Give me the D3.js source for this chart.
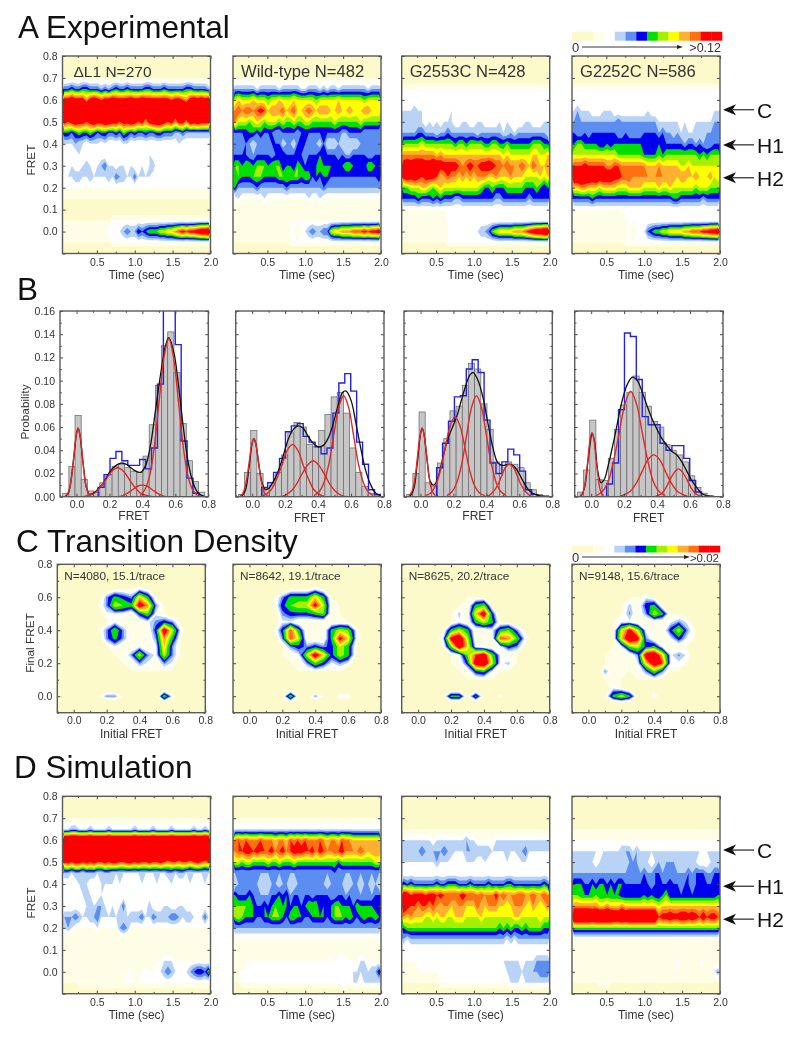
<!DOCTYPE html>
<html><head><meta charset="utf-8">
<script src="https://cdn.jsdelivr.net/npm/d3@7"></script>
<style>html,body{margin:0;background:#fff}svg{display:block;filter:blur(0.4px)}text{font-family:"Liberation Sans",Arial,sans-serif}</style>
</head><body><svg id="c" width="800" height="1037"></svg>
<script>
// Colour bands, in density levels (a row shorter than the grid repeats its last value)
const levels=[2,3,4,5,6,7,8,9,10,11,12];
const tdmLevels=[3,3.5,4.2,4.8,5.4,6.5,8,9,10,11,12];
const levelColors=["#FEFDE6","#FFFFFF","#B9D3F7","#5B8EF0","#0000EE","#00E000","#A4F000","#FFFF00","#FFB030","#FF7010","#FF0000"];
const paleColor="#FCFACA";
const legendColors=[paleColor,paleColor,"#FEFDE6","#FFFFFF","#B9D3F7","#5B8EF0","#0000EE","#00E000","#A4F000","#FFFF00","#FFB030","#FF7010","#FF0000","#FF0000"];
// Density vs time: rows FRET 0.8 ... -0.1 in 0.05 steps, 40 time columns
const expDL1=[[0],[1],[2],
[6,6,7,6,6,7,7,6,6,6,5,6,5,6,7,6,6,7,6,6,6,6,7,7,6,6,6,7,6,6,6,6,6,7,7,6,6,6,6,5],
[13,13,14,13,13,13,11,13,14,13,12,13,13,14,13,13,13,13,14,13,13,14,13,13,13,13,13,13,13,12,13,13,12,11,13,14,13,14,13,14],
[16,16,16,16,16,16,16,16,16,16,16,16,16,16,16,16,16,16,16,13,15,16,14,15,16,16,16,16,16,12,14,16,16,16,13,15,12,16,13,16],
[13,12,13,14,13,13,12,13,14,13,13,14,14,13,13,12,13,13,14,13,12,13,11,13,14,14,14,13,12,13,11,13,13,11,14,13,14,13,13,13],
[7,7,6,7,8,7,7,8,7,6,7,7,6,6,7,6,8,7,6,7,6,6,7,6,6,7,7,6,6,6,5,5,6,5,5,5,5,5,5,5],
[4,4,4,5,4,4,3,4,4,4,3,4,3,3,3,3,4,4,3,3,3,3,3,3,3,3,3,3,3,3,3,4,3],
[3,3,3,3,4,3,3,3,3,3,3,3,3,3,3,3,3,3,3,3,3,3,3,4,3],
[3,3,4,3,3,4,5,4,3,4,5,6,4,4,3,4,4,3,4,3,3,4,3,4,5,3,3,3,3,4,3],
[4,4,4,5,5,4,4,5,4,4,4,4,5,4,6,5,5,4,4,6,4,4,4,4,3,3,3,3,3,4,3],
[3],[2],[1],[2,2,2,2,2,2,2,2,2,2,2,2,2,3],
[2,2,2,2,2,2,2,2,3,3,3,3,4,4,4,4,5,6,5,5,7,6,7,8,8,8,9,9,10,10,11,12,13,12,13,13,14,15,15,16],
[2,2,2,2,2,2,2,2,2,2,2,2,2,3],[0]];
const expWT=[[0],[1],[2],
[5,5,5,5,5,5,4,5,5,5,5,5,4,5,5,5,5,5,4,4,5,5,5,4,5,4,5,5,4,5,5,5,5,5,5,5,4,5,5,5],
[9,10,9,9,9,10,9,9,9,8,9,9,10,9,9,9,10,9,9,9,9,9,8,9,9,9,9,9,10,9,9,9,9,9,9,8,9,9,9,9],
[11,12,11,12,12,11,12,13,12,10,11,11,11,12,10,11,12,10,10,11,12,11,10,11,11,11,10,10,11,10,10,11,10,10,10,11,11,10,10,10],
[11,9,9,9,8,9,10,9,8,9,9,9,8,9,8,8,9,8,8,9,9,8,8,8,8,8,8,9,8,8,8,8,8,8,9,8,8,8,8,8],
[6,6,6,6,7,7,6,7,6,6,6,5,5,6,6,6,6,5,6,6,6,6,6,6,6,6,6,6,6,5,5,6,6,6,6,5,5,5,5,5],
[5,5,5,6,5,4,5,5,5,5,6,6,6,4,5,5,4,6,6,6,5,5,5,4,6,4,4,4,5,4,4,4,4,4,5,5,5,5,5,5],
[6,6,6,6,5,5,6,6,6,6,5,6,6,7,6,6,6,6,6,5,6,6,6,7,6,6,6,6,5,6,5,5,6,6,6,6,5,5,6,6],
[8,8,7,8,8,7,8,8,8,7,8,8,8,6,7,7,6,8,7,6,6,6,7,8,7,7,7,6,7,7,8,8,7,6,7,6,8,8,7,6],
[7,8,7,7,7,8,8,8,7,7,7,7,8,8,8,8,8,8,7,8,8,6,7,6,7,7,6,6,6,6,6,6,6,6,6,6,6,6,6,7],
[7,5,5,5,5,5,6,5,5,5,5,5,5,5,6,5,5,5,5,5,5,5,5,5,6,5],
[3,4,3,3,3,3,3,3,4,3,3,3,3,3,3,3,3,3,3,3,4,3,3,4,3],
[2],[2,2,2,2,2,2,2,2,2,2,2,2,2,2,2,3],
[2,2,2,2,2,2,2,2,2,2,2,2,2,2,2,3,3,2,3,4,5,6,5,5,6,6,9,10,10,11,11,11,12,12,12,13,12,13,13,14],
[2,2,2,2,2,2,2,2,2,2,2,2,2,2,2,3],[0]];
const expG2553C=[[0],[0],[1],[3],[3],
[4,4,4,5,4,4,3,3,3,3,3,3,3,4,3,4,3,3,4,3,3,3,4,3,3,4,3],
[4,4,4,4,4,4,3,4,3,4,3,4,4,4,3,3,4,4,3,3,4,4,3,3,3,3,4,3,4,3,3,3,3,4,4,3,3,3,4,4],
[5,5,5,5,6,6,5,5,5,4,5,5,6,5,5,5,5,5,5,5,4,5,5,5,5,5,5,4,4,5,4,5,5,5,5,5,5,5,5,4],
[8,8,8,8,8,9,8,8,8,8,8,8,8,8,7,8,8,7,8,8,8,8,7,7,8,8,7,7,8,7,7,7,7,7,7,8,8,8,7,7],
[11,11,11,11,11,11,11,11,11,10,11,10,10,10,10,10,10,10,10,10,10,10,10,10,10,10,10,9,10,9,9,9,9,9,9,10,10,9,9,10],
[13,14,13,14,14,14,13,13,14,14,13,13,13,13,13,12,11,12,13,12,12,13,13,14,13,12,12,11,12,11,11,11,12,11,10,12,11,10,10,11],
[13,14,13,14,13,12,13,13,13,12,10,11,12,11,11,10,11,10,11,10,11,11,11,10,10,11,10,10,10,11,10,10,10,9,9,9,9,10,9,10],
[8,8,9,9,9,10,10,9,8,9,10,9,9,9,9,9,9,9,9,9,9,8,7,7,8,7,7,7,8,8,8,8,8,7,7,7,8,7,6,7],
[6,6,6,6,7,6,6,6,7,6,7,6,6,6,5,5,6,6,6,6,6,6,6,6,6,5,5,6,6,6,6,6,6,6,5,6],
[3],[2,2,2,2,2,2,2,2,2,2,2,2,3],
[2,2,2,2,2,2,2,2,2,2,2,2,3,3,3,4,3,3,3,4,4,5,5,6,8,9,10,10,10,10,11,11,11,12,13,14,15,15,16,16],
[2,2,2,2,2,2,2,2,2,2,2,2,3],[0]];
const expG2252C=[[0],[0],[1],[3],[3],
[4,5,4,4,4,3,3,3,4,4,4,3,3,3,3,3,3,3,3,3,4,3,3,3,3,3,3,3,3,3,3,3,3,3,3,3,3,3,4,4],
[5,5,5,5,5,5,5,5,5,5,5,5,6,5,5,5,5,5,5,5,5,5,5,4,4,4,4,4,4,3,4,3,3,4,4,4,4,4,5,5],
[6,5,5,6,5,6,6,6,6,6,6,6,5,5,6,5,5,5,5,6,6,6,6,5,6,5,5,4,5,4,4,4,4,4,4,4,5,5,5,5],
[7,8,8,7,7,7,7,6,6,7,6,7,7,7,7,7,7,7,7,6,6,6,6,7,6,6,6,6,6,6,5,6,6,5,6,5,5,5,6,6],
[9,9,9,9,9,9,9,9,9,9,9,9,8,8,8,8,8,8,8,7,7,7,7,8,7,8,8,8,8,8,8,8,8,8,7,8,7,8,8,8],
[12,12,12,13,12,12,12,12,12,11,11,12,12,11,11,11,11,11,11,11,10,10,10,11,10,10,10,10,10,9,9,10,9,9,9,9,9,9,9,9],
[15,15,15,14,15,14,15,14,14,14,14,13,13,12,12,12,11,11,11,11,11,11,11,11,11,11,11,11,10,11,11,10,10,11,10,9,10,11,9,10],
[10,10,11,11,10,10,10,9,10,10,10,10,9,9,9,10,10,10,10,9,9,9,9,10,9,9,10,9,9,9,9,9,9,8,9,9,9,8,8,8],
[6,6,6,6,6,7,6,6,6,6,6,6,6,6,6,6,6,6,6,6,6,6,6,6,6,6,6,7,7,6,6,6,6,6,6,5,6],
[3],[2,2,2,2,2,2,2,2,2,2,2,2,2,2,3],
[2,2,2,2,2,2,2,2,2,2,2,2,2,2,2,3,2,3,3,4,6,7,8,8,9,9,10,10,10,10,11,11,12,12,12,13,13,14,14,15],
[2,2,2,2,2,2,2,2,2,2,2,2,2,2,3],[0]];
const simDL1=[[0],[1],[2],
[4,4,5,5,4,4,4,5,4,4,4,4,5,4,4,4,4,4,4,5,4,4,4,4,5,4,4,4,4,5,4,4,4,4,4,5,4,4,5,4],
[17],[18],
[12,13,12,13,13,12,13,12,13,12,12,13,12,13,13,12,12,13,13,12,13,12,12,13,12,12,13,12,11,12,12,11,12,12,11,12,13,12,11,12],
[5,5,4,5,5,4,5,5,5,4,4,5,5,4,4,4,4,4,4,4,4,4,4,4,4,4,4,4,5,5,4,5,5,4,4,4,4,4,4,4],
[3,3,3,3,4,4,4,3,3,3,4,4,4,4,3,4,3,3,3,3,3,4,3,3,3,4,3,3,3,4,3,3,3,3,4,3,3,3,4,3],
[3,3,3,3,3,4,5,4,3,3,4,3,3,3,4,3,3,3,3,3,4,3],
[3,3,3,3,3,3,4,4,4,5,5,4,3,4,3,4,6,3,3,3,3,3,3,5,3,3,3,4,4,3,3,4,4,3],
[5,5,5,6,5,4,4,5,5,6,4,4,4,4,4,4,4,4,5,5,5,6,4,4,6,5,5,5,5,6,6,5,4,5,5,4,4,4,6,4],
[4,5,4,3,3,3,3,3,3,4,3,3,3,3,3,5,6,5,3],
[2],[2],
[2,2,2,2,2,2,2,2,2,2,2,2,2,2,2,2,2,2,2,2,2,2,2,2,2,3,3,4,4,4,3],
[2,2,2,2,2,2,2,2,2,2,2,2,2,2,2,2,2,3,4,2,2,3,4,3,3,3,4,5,6,5,4,3,4,4,5,6,7,7,6,8],
[2,2,2,2,3],[1]];
const simWT=[[0],[1],[2],[4],
[11,12,11,12,11,11,11,12,11,11,11,10,11,11,10,12,11,12,11,12,11,11,11,12,11,10,11,11,10,12,11,11,10,10,10,10,10,10,10,10],
[11,12,12,13,13,12,13,12,12,12,13,11,12,13,11,12,13,13,13,12,12,13,11,13,12,11,11,12,12,13,11,11,11,11,12,11,10,11,11,11],
[9,9,8,9,9,8,8,8,8,9,8,8,9,8,8,8,9,8,8,8,8,8,8,8,8,8,8,8,7,8,8,8,8,8,8,8,8,8,9,9],
[5,5,5,5,5,5,5,5,5,5,5,5,5,5,5,5,5,5,5,5,5,5,5,5,5,5,5,6,5],
[4,5,5,5,5,5,5,4,4,4,5,5,4,5,5,4,4,5,5,5,5,5,5,5,5,4,5,5,5,5,4,4,5,5,4,5,5,4,5,4],
[7,6,6,6,7,6,5,5,5,5,6,6,7,6,7,5,6,6,5,6,6,5,6,6,6,6,5,5,6,6,5,6,5,5,5,5,5,5,6,6],
[8,8,8,8,8,7,6,6,7,6,7,8,7,7,7,6,7,7,6,7,8,8,8,6,7,6,7,8,8,7,7,7,6,8,7,7,7,7,6,6],
[8,9,8,7,7,7,6,6,7,7,8,8,8,7,6,8,8,7,7,6,6,7,7,7,7,6,7,8,8,8,7,8,7,6,7,8,7,7,8,7],
[5],[3],[2],
[2,2,2,3,3,3,3,3,3,3,3,3,3,3,3,3,3,3,3,3,3,3,3,3,3,3,4,3,4,4,4,3,3,3,4,4,3,3,3,3],
[3,3,3,3,3,3,3,3,3,3,3,3,3,3,3,3,3,3,3,3,3,3,3,3,3,3,3,3,3,3,3,3,4,4,4,4,4,5,5,7],
[2,2,3,3,3,3,3,3,3,3,3,3,3,3,3,3,3,3,3,3,3,3,3,3,3,3,3,3,3,4,4,3,4,4,3,4,4,4,4,4],[1]];
const simG2553C=[[0],[0],[1],[2],
[4,4,4,4,4,4,4,4,3,4,4,4,4,4,4,4,4,5,4,4,3,3,3,3,3,4,4,4,4,4,4,4,4,4,4,4],
[5,4,5,5,5,6,5,5,5,5,5,6,5,5,4,4,4,5,5,5,5,5,5,5,4,4,4,4,5,4,4,5,5,6,4],
[4,4,4,4,4,4,4,4,4,5,4,4,4,3,3,3,3,4,4,4,3,3,4,3,3,3,3,3,4,3,3,3,4,4,3],
[3],
[7,6,7,6,6,6,6,6,6,7,6,6,7,7,7,6,6,6,7,6,6,6,6,7,6,6,6,6,7,7,6,6,6,6,6,6,6,6,7,6],
[14,14,12,13,13,13,12,13,13,12,13,12,12,12,12,12,13,12,12,12,11,12,11,11,11,13,11,12,11,11,11,12,12,11,11,12,11,11,12,11],
[14,13,12,12,11,12,12,11,12,11,10,11,11,10,10,11,11,10,10,10,12,10,10,11,11,11,10,10,9,10,11,11,11,10,9,11,10,9,10,11],
[11,10,11,10,10,10,9,9,10,9,10,10,9,9,10,10,10,9,9,9,9,10,9,9,9,9,9,9,9,9,10,10,9,9,9,9,9,10,9,9],
[7,8,8,8,8,8,8,8,8,8,8,8,8,8,8,8,8,8,8,8,8,8,8,8,8,8,7,8,7,8,7,7,8,7,8,8,8,8,7,7],
[5,4,5,5,5,5,5,5,5,5,5,5,5,5,5,5,5,5,5,5,5,5,5,5,5,5,5,5,4,5,4,5],
[3],
[3,3,3,3,3,3,3,3,3,3,3,3,3,3,3,3,3,3,3,3,3,3,3,3,3,3,3,4,4,4,4,4,3,4,4,4,5,5,5,5],
[2,2,2,2,3,3,3,3,3,3,3,3,3,3,3,3,3,4,4,3,4,4,4,3,3,3,3,3,4,4,4,4,4,4,5,5,5,6,6,6],
[2,2,2,2,2,2,2,2,2,2,3,3,3,3,3,3,3,3,3,3,3,3,3,3,3,3,3,3,3,4,4,4,3,4,4,4,4,4,4,4],[1]];
const simG2252C=[[0],[0],[1],[2],[3],
[4,4,4,4,4,4,4,3,4,4,4,4,4,5,5,5,4,5,4],
[4,4,4,4,4,4,3,4,4,4,4,4,4,4,4,5,5,5,4,4,4,3,4,5,4,5,5,5,4,4,4,4,4,4,3,3,3,4,4,4],
[5,5,5,5,5,5,5,5,5,5,5,5,5,5,5,5,5,5,5,6,5,5,6,6,5,5,5,5,5,5,5,6,5,6,6,6,5,5,6,6],
[7,7,7,6,6,7,6,7,7,6,7,6,7,7,6,6,6,6,6,6,6,5,6,6,6,6,7,6,6,5,6,6,5,6],
[8,8,7,7,7,7,8,7,7,7,7,7,7,6,6,6,6,6,6,7,6,7,6,6,7,8,6,6,6,6,6,6,6,6,6,6,6,6,6,7],
[11,11,11,11,11,11,11,10,10,11,10,10,10,11,10,10,10,10,10,10,10,10,10,9,10],
[16,16,16,16,16,15,16,16,16,16,16,15,15,16,15,16,16,16,16,16,16,16,16,12,13,13,14,13,13,14,14,13,14,13,12,14,12,13,13,12],
[8],[3],[2],
[2,2,2,2,2,2,2,3,3,3,3,3,3,3,3,3,3,3,3,3,3,3,3,3,3,3,3,3,3,3,3,3,3,3,3,3,2],
[2,2,2,2,2,2,2,2,2,2,2,2,2,2,2,2,2,2,2,2,2,2,2,2,2,2,2,2,3,2,2,2,2,2,2,3,2,2,4,5],
[2,2,2,2,2,2,2,3,3,3,2],[1]];
// Transition density: [final FRET, values for initial FRET 0.1, 0.15 ... 0.7]
const tdmDL1=[[.65,1,1,2,3,3,3,4,3,2,1,1,1,1],[.6,1,2,5,7,6,5,10,7,3,2,1,1,1],[.55,1,3,5,9,8,7,14,11,5,3,2,1,1],[.5,1,2,4,4,4,3,6,8,4,3,2,1,1],[.45,1,2,3,4,3,3,3,4,5,6,5,3,2],[.4,2,3,5,8,5,3,3,3,6,14,9,4,2],[.35,1,2,5,7,5,3,3,3,5,11,7,3,2],[.3,1,2,3,4,3,3,4,3,4,10,5,3,1],[.25,1,1,2,3,3,5,9,5,4,9,5,3,1],[.2,1,1,2,2,3,3,5,4,3,5,4,2,1],[.15,1,1,1,2,2,3,3,3,3,3,3,2,1],[0,1,3,5,5,3,2,3,3,2,8,4,2,1]];
const tdmWT=[[.65,1,1,2,3,3,3,4,3,2,1,1,1,1],[.6,1,3,5,7,7,7,10,7,3,2,1,1,1],[.55,1,3,6,8,9,9,13,9,3,3,2,1,1],[.5,1,2,5,6,6,6,7,8,3,3,2,1,1],[.45,1,2,4,4,3,3,3,3,3,3,3,2,1],[.4,1,3,6,12,7,3,3,3,7,9,8,4,2],[.35,1,2,5,12,9,3,3,3,7,13,10,4,2],[.3,1,2,3,5,6,5,6,5,6,9,7,3,2],[.25,1,1,3,3,4,9,14,10,6,9,7,3,1],[.2,1,1,2,3,3,5,8,6,4,5,4,2,1],[.15,1,1,2,2,3,3,3,3,3,3,2,2,1],[0,1,2,3,8,3,2,5,3,2,4,4,2,1]];
const tdmG2553C=[[.6,1,1,1,2,3,3,3,2,1,1,1,1,1],[.55,1,1,2,3,3,7,8,3,2,1,1,1,1],[.5,1,2,3,4.5,3,10,14,6,2,2,1,1,1],[.45,1,2,3,4,3,7,9,7,3,3,2,1,1],[.4,1,3,7,9,7,3,3,4,7,8,5,3,2],[.35,2,4,13,15,9,3,3,3,12,11,8,4,2],[.3,1,3,8,14,10,4,3,3,4,6,5,3,2],[.25,1,2,3,4,8,12,14,8,4,3,3,2,1],[.2,1,2,3,3,6,14,15,9,4,4.5,3,2,1],[.15,1,1,2,3,3,6,7,4,3,3,2,1,1],[.1,1,1,2,2,3,3,3,3,2,2,1,1,1],[0,1,3,7,7,3,7,3,2,3.5,2,1,1,1]];
const tdmG2252C=[[.6,1,1,2,3,3,4,3,2,1,1,1,1,1],[.55,1,2,3,4.5,3,6,7,3,2,2,1,1,1],[.5,1,2,3,5,3,5,9,7,3,3,2,1,1],[.45,1,3,4,4,3,3,3,3,4,5,4,2,1],[.4,2,3,9,13,9,4,3,3,6,9,5,3,2],[.35,1,3,10,15,13,5,3,3,4,6,4,3,2],[.3,1,3,4,8,9,6,7,4,3,3,3,2,1],[.25,3,3,3,3,5,14,15,10,4,5,4,2,1],[.2,3,3,3,3,4,10,14,12,4,4,3,2,1],[.15,5,3,3,3,3,5,8,5,3,3,2,1,1],[.1,3,3,3,2,3,3,3,3,2,2,1,1,1],[.05,2,4,3,2,2,2,2,2,1,1,1,1,1],[0,3,7,9,7,3,2,4,2,3,2,1,1,1]];
// Histograms, probability x 1000
const barCenters=[-.065,-.0275,.01,.0475,.085,.1225,.16,.1975,.235,.2725,.31,.3475,.385,.4225,.46,.4975,.535,.5725,.61,.6475,.685,.7225,.76];
const barWidth=.0375,blueWidth=.036;
const grayDL1=[3,26,70,15,5,4,12,19,26,28,25,22,21,35,62,96,130,142,107,63,31,13,4];
const grayWT=[2,21,57,20,7,10,21,36,55,64,60,45,43,57,71,86,90,72,42,21,9,3,1];
const grayG2553C=[2,20,73,12,9,29,50,74,78,96,115,110,80,58,30,27,30,28,25,12,6,2,1];
const grayG2252C=[4,23,66,15,14,33,58,79,90,104,90,78,65,60,45,40,36,30,18,8,3,1,0];
const blueStarts=[.1314,.058,.098,.094];
const blueDL1=[8,19,33,39,31,27,27,32,24,42,97,165,165,131,48,16,3];
const blueWT=[8,12,21,33,56,61,63,52,47,43,37,42,72,98,106,91,47,28,6,2];
const blueG2553C=[25,46,65,86,87,110,118,107,66,29,20,30,41,36,22,6,2];
const blueG2252C=[11,29,75,141,138,101,69,62,62,46,40,44,44,33,14,4];
// Fit components: start, step, heights (x 1000)
const fitsDL1=[[-.065,.0125,[1,3,8,19,36,52,59,52,36,19,8,3,1]],[.04,.035,[0,1,3,8,15,22,25,22,15,8,3,1,0]],[.22,.03,[0,0,1,3,6,9,10,9,6,3,1,0,0]],[.386,.029,[1,6,18,44,83,120,136,120,83,44,18,6,1]]];
const fitsWT=[[-.074,.014,[1,2,7,16,30,44,50,44,30,16,7,2,1]],[.05,.0325,[0,2,6,15,27,40,45,40,27,15,6,2,0]],[.16,.035,[0,1,4,10,19,27,31,27,19,10,4,1,0]],[.375,.03,[1,4,12,28,53,77,87,77,53,28,12,4,1]]];
const fitsG2553C=[[-.071,.0135,[1,3,8,19,36,52,59,52,36,19,8,3,1]],[.03,.03,[1,3,9,22,42,61,69,61,42,22,9,3,1]],[.16,.03,[1,4,12,28,53,77,87,77,53,28,12,4,1]],[.39,.025,[0,1,4,9,17,25,28,25,17,9,4,1,0]]];
const fitsG2252C=[[-.067,.012,[1,2,7,18,33,49,55,49,33,18,7,2,1]],[.03,.035,[1,4,12,30,55,80,91,80,55,30,12,4,1]],[.17,.035,[0,2,5,12,22,32,36,32,22,12,5,2,0]],[.38,.025,[0,1,3,8,15,21,24,21,15,8,3,1,0]]];
// Total fit: FRET, height
const totalDL1=[[-.07,0],[-.05,3],[-.04,8],[-.02,29],[0,54],[.01,59],[.02,54],[.04,29],[.06,8],[.08,2],[.1,3],[.12,5],[.14,8],[.16,11],[.18,16],[.2,21],[.24,27],[.27,29],[.3,28],[.33,25],[.36,22],[.39,21],[.42,27],[.45,45],[.48,75],[.51,105],[.54,130],[.56,137],[.59,125],[.62,95],[.65,58],[.68,28],[.71,11],[.74,3],[.78,0]];
const totalWT=[[-.07,0],[-.06,1],[-.04,6],[-.02,24],[0,46],[.01,50],[.02,47],[.04,28],[.06,12],[.08,6],[.1,7],[.12,11],[.14,16],[.16,23],[.18,31],[.2,41],[.22,50],[.25,58],[.28,61],[.31,59],[.34,52],[.37,46],[.4,43],[.43,44],[.46,50],[.49,62],[.52,78],[.55,90],[.57,91],[.6,83],[.63,63],[.66,41],[.69,22],[.72,10],[.75,3],[.78,1]];
const totalG2553C=[[-.07,0],[-.06,1],[-.04,7],[-.02,28],[0,54],[.01,59],[.02,55],[.04,32],[.06,13],[.08,10],[.1,14],[.12,24],[.14,36],[.16,47],[.18,55],[.2,62],[.22,69],[.25,84],[.28,98],[.3,105],[.32,107],[.35,100],[.38,85],[.41,63],[.44,42],[.47,29],[.5,27],[.53,28],[.56,27],[.59,22],[.62,14],[.65,7],[.68,3],[.72,1],[.76,0]];
const totalG2252C=[[-.07,0],[-.06,1],[-.04,8],[-.02,30],[0,52],[.005,55],[.02,48],[.04,22],[.06,12],[.08,15],[.1,25],[.12,37],[.14,50],[.16,64],[.18,78],[.2,89],[.22,97],[.25,103],[.28,100],[.31,90],[.34,78],[.37,67],[.4,58],[.43,50],[.46,44],[.49,39],[.52,36],[.55,30],[.58,22],[.61,14],[.64,8],[.67,3],[.7,1],[.74,0]];
// Text
const expLabels=["ΔL1 N=270","Wild-type N=482","G2553C N=428","G2252C N=586"];
const tdmLabels=["N=4080, 15.1/trace","N=8642, 19.1/trace","N=8625, 20.2/trace","N=9148, 15.6/trace"];
const stateLabels=["C","H1","H2"];
const stateFretA=[.555,.395,.245];
const stateFretD=[.555,.39,.24];

const svg=d3.select("#c");const defs=svg.append("defs");
const frameColor="#5a5a5a",tickColor="#444",textColor="#333";
let uid=0;
function frame(g,x,y,xMaj,xMin,yMaj,yMin,fmtX,fmtY,showY,pad){
  const tickLen=3;
  const [x0,x1]=x.range(),[y1,y0]=y.range();
  const ax=(gen,tx,ty,vals,len)=>{const a=g.append("g").attr("transform",`translate(${tx},${ty})`).call(gen.tickValues(vals).tickSizeInner(-len).tickSizeOuter(0).tickFormat(""));a.select(".domain").remove();a.selectAll("line").attr("stroke",tickColor).attr("stroke-width",1);return a;};
  ax(d3.axisBottom(x),0,y1,xMin,tickLen*.6);ax(d3.axisTop(x),0,y0,xMin,tickLen*.6);
  ax(d3.axisLeft(y),x0,0,yMin,tickLen*.6);ax(d3.axisRight(y),x1,0,yMin,tickLen*.6);
  ax(d3.axisTop(x),0,y0,xMaj,tickLen);ax(d3.axisRight(y),x1,0,yMaj,tickLen);
  const b=g.append("g").attr("transform",`translate(0,${y1})`).call(d3.axisBottom(x).tickValues(xMaj).tickSizeInner(-tickLen).tickSizeOuter(0).tickPadding(pad).tickFormat(fmtX));
  b.select(".domain").remove();b.selectAll("line").attr("stroke",tickColor);b.selectAll("text").attr("fill",textColor).style("font-size","10.5px").style("font-family","Liberation Sans");
  const l=g.append("g").attr("transform",`translate(${x0},0)`).call(d3.axisLeft(y).tickValues(yMaj).tickSizeInner(-tickLen).tickSizeOuter(0).tickPadding(5).tickFormat(showY?fmtY:""));
  l.select(".domain").remove();l.selectAll("line").attr("stroke",tickColor);l.selectAll("text").attr("fill",textColor).style("font-size","10.5px").style("font-family","Liberation Sans");
  g.append("rect").attr("x",x0).attr("y",y0).attr("width",x1-x0).attr("height",y1-y0).attr("fill","none").attr("stroke",frameColor).attr("stroke-width",1.4);
}
function contourLayer(g,x,y,rows,nCols,gx,gy,lv){
  const [x0,x1]=x.range(),[y1,y0]=y.range();const id="clip"+(uid++);
  defs.append("clipPath").attr("id",id).append("rect").attr("x",x0).attr("y",y0).attr("width",x1-x0).attr("height",y1-y0);
  g.append("rect").attr("x",x0).attr("y",y0).attr("width",x1-x0).attr("height",y1-y0).attr("fill",paleColor);
  const vals=[];rows.forEach(r=>{for(let i=0;i<nCols;i++)vals.push(r[Math.min(i,r.length-1)]);});
  const cs=d3.contours().size([nCols,rows.length]).thresholds(lv)(vals);
  const path=d3.geoPath(d3.geoTransform({point(a,b){this.stream.point(x(gx(a)),y(gy(b)));}}));
  g.append("g").attr("clip-path",`url(#${id})`).selectAll("path").data(cs).join("path").attr("d",path).attr("fill",(d,i)=>levelColors[i]);
}
function axisTitleX(t,cx,by){svg.append("text").attr("x",cx).attr("y",by).attr("text-anchor","middle").attr("fill",textColor).style("font-size","12px").text(t);}
function axisTitleY(t,cx,cy){svg.append("text").attr("transform",`translate(${cx},${cy}) rotate(-90)`).attr("text-anchor","middle").attr("fill",textColor).style("font-size","11.8px").text(t);}

const heatLefts=[62.5,233,401.7,572];const heatW=148;
const f1=d3.format(".1f");const f1pos=d=>d<0?"":f1(d);
function timePanels(sets,top,bottom,labels,titleBase){
  const fretY=d3.scaleLinear([-.1,.8],[bottom,top]);
  sets.forEach((rows,k)=>{
    const x=d3.scaleLinear([.047,2],[heatLefts[k],heatLefts[k]+heatW]);
    const g=svg.append("g");
    contourLayer(g,x,fretY,rows,40,a=>.047+a*(1.953/40),b=>.825-.05*b,levels);
    frame(g,x,fretY,[.5,1,1.5,2],[.25,.75,1.25,1.75],d3.range(-.1,.81,.1).map(v=>+v.toFixed(1)),[],f1,f1pos,k==0,5);
    if(labels)g.append("text").attr("x",heatLefts[k]+(k==0?11:8)).attr("y",top+21).attr("fill",textColor).style("font-size",k==0?"15.5px":"16.6px").text(labels[k]);
    axisTitleX("Time (sec)",heatLefts[k]+74,titleBase);
  });
}
timePanels([expDL1,expWT,expG2553C,expG2252C],56,253.5,expLabels,279);
timePanels([simDL1,simWT,simG2553C,simG2252C],796.3,993.7,null,1019);
axisTitleY("FRET",35,160);axisTitleY("FRET",35,903);

// Histograms
const histLefts=[60,235.7,404,574.7];const histW=148.3;
const probY=d3.scaleLinear([0,160],[496.7,311]);
[[grayDL1,blueDL1,fitsDL1,totalDL1],[grayWT,blueWT,fitsWT,totalWT],[grayG2553C,blueG2553C,fitsG2553C,totalG2553C],[grayG2252C,blueG2252C,fitsG2252C,totalG2252C]].forEach(([gray,blue,fits,total],k)=>{
  const x=d3.scaleLinear([-.1,.8],[histLefts[k],histLefts[k]+histW]);
  const g=svg.append("g");const id="hclip"+k;
  defs.append("clipPath").attr("id",id).append("rect").attr("x",x.range()[0]).attr("y",311).attr("width",histW).attr("height",185.7);
  const p=g.append("g").attr("clip-path",`url(#${id})`);
  p.selectAll("rect").data(gray).join("rect").attr("x",(d,i)=>x(barCenters[i]-barWidth/2)).attr("width",x(barWidth)-x(0)).attr("y",d=>probY(d)).attr("height",d=>probY(0)-probY(d)).attr("fill","#c6c6c6").attr("stroke","#666").attr("stroke-width",.7);
  const pts=[[blueStarts[k],0]].concat(blue.map((v,i)=>[blueStarts[k]+i*blueWidth,v]));pts.push([blueStarts[k]+blue.length*blueWidth,0]);
  p.append("path").attr("d",d3.line().x(d=>x(d[0])).y(d=>probY(d[1])).curve(d3.curveStepAfter)(pts)).attr("fill","none").attr("stroke","#2222e6").attr("stroke-width",1.4);
  const line=d3.line().x(d=>x(d[0])).y(d=>probY(d[1])).curve(d3.curveCatmullRom);
  p.append("path").attr("d",line(total)).attr("fill","none").attr("stroke","#111").attr("stroke-width",1.3);
  fits.forEach(([s,dx,ys])=>p.append("path").attr("d",line(ys.map((v,i)=>[s+i*dx,v]))).attr("fill","none").attr("stroke","#e02828").attr("stroke-width",1.4));
  frame(g,x,probY,[0,.2,.4,.6,.8],[-.1,.1,.3,.5,.7],d3.range(0,161,20),d3.range(10,160,20),f1,d=>d3.format(".2f")(d/1000),k==0,4);
  axisTitleX("FRET",histLefts[k]+74,k==1||k==3?522:520);
});
axisTitleY("Probability",29,412);

// Transition density
const tdmY=d3.scaleLinear([-.1,.8],[712.7,564.3]);
[tdmDL1,tdmWT,tdmG2553C,tdmG2252C].forEach((sparse,k)=>{
  const lefts=[57.3,233,401.7,572];
  const x=d3.scaleLinear([-.1,.8],[lefts[k],lefts[k]+148]);
  const rows=d3.range(19).map(()=>Array(19).fill(1));
  sparse.forEach(r=>{const j=Math.round((.8-r[0])/.05);r.slice(1).forEach((v,i)=>rows[j][i+4]=v);});
  const g=svg.append("g");
  contourLayer(g,x,tdmY,rows,19,a=>-.125+.05*a,b=>.825-.05*b,tdmLevels);
  frame(g,x,tdmY,[0,.2,.4,.6,.8],[-.1,.1,.3,.5,.7],[0,.2,.4,.6,.8],[-.1,.1,.3,.5,.7],f1,f1,k==0,4);
  g.append("text").attr("x",lefts[k]+7).attr("y",580).attr("fill",textColor).style("font-size","11.8px").text(tdmLabels[k]);
  axisTitleX("Initial FRET",lefts[k]+74,738);
});
axisTitleY("Final FRET",34,643);

// Headings
[["A Experimental",18,38],["B",17,300],["C Transition Density",16,552],["D Simulation",14,778]].forEach(([t,x,y])=>svg.append("text").attr("x",x).attr("y",y).attr("fill","#111").style("font-size","31.5px").text(t));

// Colour legends
function legend(x0,x1,y0,y1,textBase,lab,arrowEnd,fs){
  const sx=d3.scaleBand(d3.range(legendColors.length),[x0,x1]);
  svg.append("g").selectAll("rect").data(legendColors).join("rect").attr("x",(d,i)=>sx(i)).attr("y",y0).attr("width",sx.bandwidth()+.3).attr("height",y1-y0).attr("fill",d=>d);
  svg.append("text").attr("x",x0).attr("y",textBase).attr("fill",textColor).style("font-size","13px").text("0");
  svg.append("text").attr("x",x1-1).attr("y",textBase).attr("text-anchor","end").attr("fill",textColor).style("font-size",fs+"px").text(lab);
  const ay=textBase-5;
  svg.append("line").attr("x1",x0+10).attr("x2",arrowEnd-4).attr("y1",ay).attr("y2",ay).attr("stroke","#222").attr("stroke-width",.9);
  svg.append("path").attr("d",`M${arrowEnd},${ay}l-6,-2v4z`).attr("fill","#222");
}
legend(572,722,31.7,40.7,52,">0.12",683,12.5);
legend(572,720,545.7,552.5,562,">0.02",690,11.5);

// State arrows
function stateMarks(ys){stateLabels.forEach((t,i)=>{const y=ys[i];
  svg.append("line").attr("x1",733).attr("x2",754).attr("y1",y).attr("y2",y).attr("stroke","#111").attr("stroke-width",1.1);
  svg.append("path").attr("d",`M723,${y}l13,-5.5l-3.5,5.5l3.5,5.5z`).attr("fill","#111");
  svg.append("text").attr("x",757).attr("y",y+8).attr("fill","#111").style("font-size","21px").text(t);
});}
const yA=d3.scaleLinear([-.1,.8],[253.5,56]),yD=d3.scaleLinear([-.1,.8],[993.7,796.3]);
stateMarks(stateFretA.map(yA));stateMarks(stateFretD.map(yD));
</script></body></html>
